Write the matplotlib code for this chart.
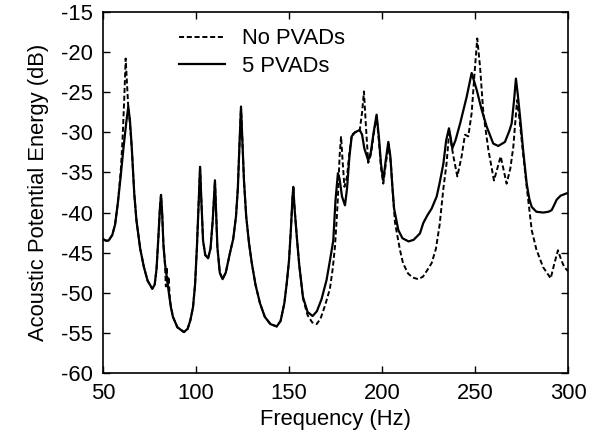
import matplotlib.pyplot as plt

plt.rcParams['font.family'] = ['Liberation Sans', 'DejaVu Sans']
plt.rcParams['axes.unicode_minus'] = False

# 5 PVADs (solid)
solid_freq = [50, 51.5, 53, 55, 56.5, 58, 59.5, 61, 62.5, 63.6, 64.5, 65.5, 66.8, 68, 70, 72, 74, 76.5,
              77.8, 78.8, 79.8, 80.6, 81.2, 81.8, 82.5, 83.3, 85, 86.5, 87.6, 90, 93.5, 95.5, 97, 98.4,
              99.5, 100.5, 101.4, 102.2, 102.8, 103.8, 105, 106.5, 107.8, 109, 110.2, 110.8, 111.5,
              112.8, 114.3, 116, 118.3, 120, 121.5, 122.5, 123.3, 124.2, 125, 125.8, 127, 128.5, 130,
              132, 134.4, 137, 140, 143.4, 145.5, 147.5, 148.8, 150, 151, 151.8, 152.3, 153, 154.3,
              155.5, 157.5, 160, 162.7, 165, 167.5, 170.2, 172, 173.8, 175, 176.3, 177.2, 178.5, 180.1,
              181.2, 182.5, 183.7, 185.5, 188, 189.3, 190.5, 192.6, 194, 195.5, 197.1, 198.3, 199.5,
              200.7, 202, 203.4, 204.5, 205.5, 206.5, 208.8, 211, 214.3, 217, 220.4, 222.2, 224.5,
              226.7, 229.4, 231, 233, 234.5, 236, 237, 237.8, 239.5, 242, 245.5, 248.2, 250.9, 253.6,
              256.3, 259.8, 262.5, 266.1, 268.5, 269.7, 271, 272, 273, 274.2, 276, 277.8, 279.2, 280.5,
              283, 286.7, 289.5, 291.2, 292.5, 293.9, 296, 299.3, 300]
solid_db = [-43.3, -43.5, -43.5, -42.8, -41.5, -38.8, -35.5, -32, -28.8, -26.8, -28.5, -32, -37.6, -41,
            -44.5, -46.8, -48.5, -49.5, -49, -47, -43, -39.5, -37.8, -40, -44, -46.3, -49.3, -51.8, -53,
            -54.3, -54.9, -54.5, -53.4, -51.8, -49, -44.3, -39, -34.3, -38, -43.5, -45.3, -45.7, -44.5,
            -41, -36, -40, -44.3, -47.5, -48.3, -47.5, -45, -43.3, -40.5, -37, -32, -26.8, -31.5, -36,
            -40.5, -43.8, -46.3, -49, -51.3, -53, -53.9, -54.2, -53.5, -51.3, -48.8, -46, -42.2, -38.5,
            -36.8, -39.5, -43.3, -46.5, -50.5, -52.4, -52.9, -52.3, -50.8, -48.4, -46, -43.5, -38.5,
            -35.1, -35.8, -38, -39.1, -37, -33, -30.5, -30, -29.7, -30.3, -32, -33.5, -32.5, -30, -27.8,
            -30.5, -34, -36, -33.5, -31.2, -33, -36.5, -39.5, -42.2, -43.2, -43.6, -43.4, -42.6, -41.3,
            -40.3, -39.5, -38, -36.3, -33.9, -31, -29.5, -30.8, -32, -31, -28.9, -25.6, -22.6, -24.7,
            -27.2, -29.3, -31.4, -31.7, -31.2, -29.8, -28.9, -26, -23.3, -25.3, -28, -32.5, -36.4, -38.3,
            -39.3, -39.9, -40, -39.9, -39.7, -39.1, -38.4, -37.9, -37.6, -37.6]

# No PVADs (dashed)
dashed_freq = [50, 51.5, 53, 55, 56.5, 58, 59.5, 60.5, 61.4, 62.2, 62.8, 63.5, 64.5, 65.5, 66.8, 68, 70,
               72, 74, 76.5, 77.8, 78.8, 79.8, 80.6, 81.2, 81.8, 82.5, 83.3, 83.8, 84.3, 84.8, 85.3, 86,
               87.6, 90, 93.5, 95.5, 97, 98.4, 99.5, 100.5, 101.4, 102.2, 102.8, 103.8, 105, 106.5, 107.8,
               109, 110.2, 110.8, 111.5, 112.8, 114.3, 116, 118.3, 120, 121.5, 122.5, 123.3, 124.2, 125,
               125.8, 127, 128.5, 130, 132, 134.4, 137, 140, 143.4, 145.5, 147.5, 148.8, 150, 151, 151.8,
               152.3, 153, 154.3, 155.5, 157.5, 160, 162.5, 164.9, 167, 169.5, 172, 173.5, 174.7, 175.6,
               176.3, 177.2, 178, 178.8, 179.8, 181.2, 182.5, 183.8, 185.5, 188, 189.3, 190.3, 191.3,
               192.6, 194, 195.5, 197.1, 198.3, 199.5, 200.7, 202, 203.6, 204.8, 205.8, 207, 209.7, 211.3,
               214, 216.5, 219.4, 222, 224, 226.7, 229, 231, 233, 234.7, 236.2, 237.3, 238.4, 240.5, 242.8,
               244.6, 246.4, 248.2, 249.8, 251.2, 252.7, 254.5, 257.2, 260.2, 262, 263.8, 265.5, 267, 269,
               270.6, 272.6, 274, 275.1, 277.8, 280.5, 283, 286.6, 290.7, 292.5, 294.6, 296.5, 298, 300]
dashed_db = [-43.3, -43.5, -43.5, -42.8, -41.5, -38.8, -35, -31, -26, -20.8, -23.5, -26.5, -29, -32,
             -37.6, -41, -44.5, -46.8, -48.5, -49.5, -49, -47, -43, -39.5, -37.8, -40, -44, -46.3, -49.2,
             -46.8, -49.3, -48, -51, -53, -54.3, -54.9, -54.5, -53.4, -51.8, -49, -44.3, -39, -34.3, -38,
             -43.5, -45.3, -45.7, -44.5, -41, -36, -40, -44.3, -47.5, -48.3, -47.5, -45, -43.3, -40.5,
             -37, -32, -26.8, -31.5, -36, -40.5, -43.8, -46.3, -49, -51.3, -53, -53.9, -54.2, -53.5,
             -51.3, -48.8, -46, -42.2, -38.5, -36.8, -39.5, -43.3, -46.5, -50.7, -52.8, -53.7, -53.9,
             -53.2, -51.5, -49.5, -47, -44.3, -41, -38.1, -33, -30.5, -33.5, -36.8, -35.5, -32.5, -30.3,
             -30, -29.8, -27.5, -24.9, -29, -33.8, -32.8, -30.3, -28, -31, -34.5, -36.4, -34, -31.5, -34,
             -37.5, -41.3, -44.7, -46.3, -47.6, -48.1, -48.3, -48, -47.3, -46.3, -44.5, -41.5, -37,
             -33.9, -29.8, -31.5, -33, -35.5, -33, -30.3, -30.5, -27.6, -22.5, -18.3, -21.8, -27.6,
             -32.2, -36, -34.5, -33, -34.8, -36.4, -34.5, -31.8, -26, -28.5, -31, -36.8, -42.2, -44.6,
             -46.8, -48.2, -46.5, -44.7, -46, -46.8, -47.3]

fs = 15.8
fig = plt.figure(figsize=(6.04, 4.38), dpi=100)
ax = fig.add_axes([0.1705, 0.1484, 0.7699, 0.8242])

ax.plot(solid_freq, solid_db, color='black', lw=1.6, label='5 PVADs')
ax.plot(dashed_freq, dashed_db, color='black', lw=1.4, linestyle=(0, (2.6, 1.4)), label='No PVADs')

ax.set_xlim(50, 300)
ax.set_ylim(-60, -15)
ax.set_xticks(range(50, 301, 50))
ax.set_yticks(range(-60, -14, 5))
ax.tick_params(direction='in', top=True, right=True, length=5, width=1, labelsize=fs, pad=7)
for s in ax.spines.values():
    s.set_linewidth(1.2)

ax.set_xlabel('Frequency (Hz)', fontsize=fs, labelpad=4)
ax.set_ylabel('Acoustic Potential Energy (dB)', fontsize=fs, labelpad=9)

h, l = ax.get_legend_handles_labels()
ax.legend(h[::-1], l[::-1], loc='upper left', bbox_to_anchor=(0.163, 0.955), frameon=False,
          fontsize=fs, handlelength=2.1, handletextpad=0.8, labelspacing=0.3,
          borderpad=0, borderaxespad=0)

fig.savefig('out.png', dpi=100)
